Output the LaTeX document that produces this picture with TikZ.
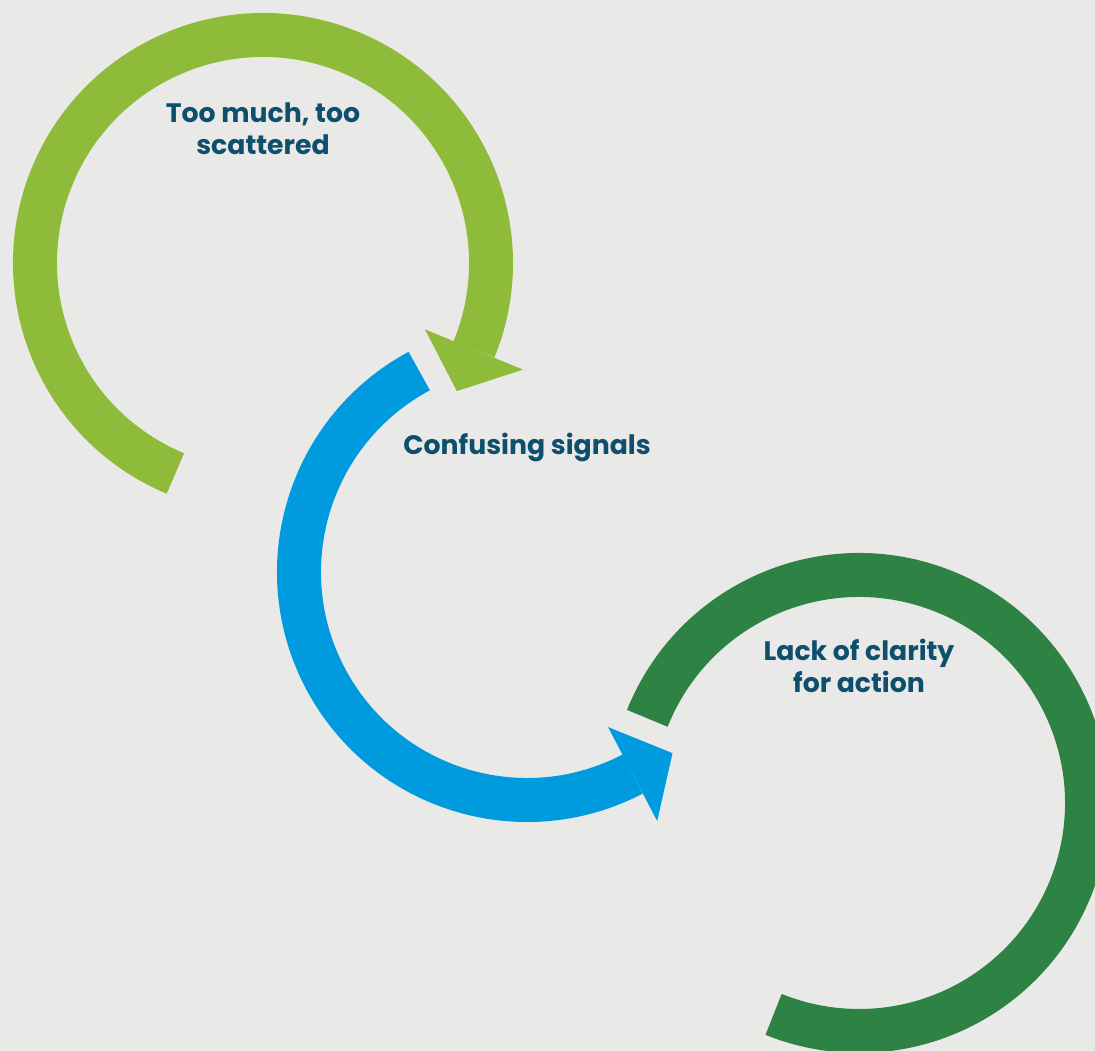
\documentclass[tikz,border=0pt]{standalone}
\usepackage{fontspec}
\setmainfont{Poppins}
\usepackage{xcolor}
\usepackage{tikz}
\usetikzlibrary{calc}
\definecolor{bgpage}{HTML}{E9E9E7}
\definecolor{leafgreen}{HTML}{8FBB3B}
\definecolor{skyblue}{HTML}{009BDF}
\definecolor{forestgreen}{HTML}{2E8244}
\definecolor{labelink}{HTML}{0E4F6E}

\begin{document}
\begin{tikzpicture}[
        x=0.02cm, y=0.02cm,
        ringband/.style={
            line width=0.88cm
        },
        ringtext/.style={
            text=labelink,
            align=center,
            font=\fontsize{15.2}{18.2}\selectfont\bfseries
        }
    ]
        \useasboundingbox (0,0) rectangle (1095,1051);
        \clip (0,0) rectangle (1095,1051);
        \fill[bgpage] (0,0) rectangle (1095,1051);

        % ring centres
        \coordinate (hubA) at (263,788);
        \coordinate (hubB) at (527,479);
        \coordinate (hubC) at (859,248);

        % green ring with head
        \draw[ringband, leafgreen] ($(hubA)+(247.4:228)$) arc[start angle=247.4, end angle=-22.3, radius=228];
        \fill[leafgreen] ($(hubA)+(-22.3:175)$) -- ($(hubA)+(-22.3:281)$)
            -- ($(hubA)+(-22.3:228)+(-112.3:45)$) -- cycle;

        % blue ring with head
        \draw[ringband, skyblue] ($(hubB)+(118.2:228)$) arc[start angle=118.2, end angle=297.6, radius=228];
        \fill[skyblue] ($(hubB)+(297.6:175)$) -- ($(hubB)+(297.6:281)$)
            -- ($(hubB)+(297.6:228)+(27.6:45)$) -- cycle;

        % dark green ring, no head
        \draw[ringband, forestgreen] ($(hubC)+(158.2:228)$) arc[start angle=158.2, end angle=-112, radius=228];

        \node[ringtext] (scatter) at (263,922) {Too much, too\\scattered};
        \node[ringtext] (signals) at (527,604) {Confusing signals};
        \node[ringtext] (clarity) at (859,385) {Lack of clarity\\for action};
    \end{tikzpicture}
\end{document}
